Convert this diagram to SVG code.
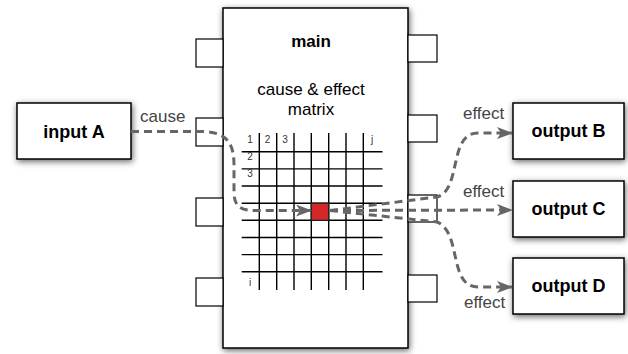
<svg xmlns="http://www.w3.org/2000/svg" width="628" height="354" viewBox="0 0 628 354">
<defs>
<filter id="sh" x="-30%" y="-30%" width="160%" height="160%">
<feDropShadow dx="1" dy="2" stdDeviation="3" flood-color="#000" flood-opacity="0.6"/>
</filter>
<marker id="arr" viewBox="0 0 16 12" refX="15" refY="6" markerWidth="16" markerHeight="12" markerUnits="userSpaceOnUse" orient="auto">
<path d="M0,0 L16,6 L0,12 L4,6 z" fill="#666"/>
</marker>
<style>
.box{fill:#fff;stroke:#000;stroke-width:1.5}
.port{fill:#fff;stroke:#000;stroke-width:1.2}
.t{font-family:"Liberation Sans",Arial,sans-serif;text-anchor:middle;fill:#000}
.b{font-weight:bold;font-size:18px}
.lbl{font-family:"Liberation Sans",Arial,sans-serif;font-size:17px;fill:#444}
.g{font-family:"Liberation Sans",Arial,sans-serif;font-size:10px;fill:#333;text-anchor:middle}
.grid line{stroke:#000;stroke-width:1.4}
.con{fill:none;stroke:#666;stroke-width:3;stroke-dasharray:8,5}
</style>
</defs>
<g id="main">
<rect class="box" x="223" y="8" width="185" height="340" filter="url(#sh)"/>
<g id="ports">
<rect class="port" x="196" y="39" width="27" height="28"/>
<rect class="port" x="196" y="118" width="27" height="28"/>
<rect class="port" x="196" y="198" width="27" height="28"/>
<rect class="port" x="196" y="278" width="27" height="28"/>
<rect class="port" x="408" y="35" width="29" height="27"/>
<rect class="port" x="408" y="115" width="29" height="27"/>
<rect class="port" x="408" y="195" width="29" height="27"/>
<rect class="port" x="408" y="275" width="29" height="27"/>
</g>
<text class="t" x="311" y="47" font-size="17" font-weight="bold">main</text>
<text class="t" x="311" y="95" font-size="17">cause &amp; effect</text>
<text class="t" x="311" y="115" font-size="17">matrix</text>
</g>
<g id="matrix">
<g class="grid">
<line x1="259.3" y1="133" x2="259.3" y2="290"/>
<line x1="276.7" y1="133" x2="276.7" y2="290"/>
<line x1="294" y1="133" x2="294" y2="290"/>
<line x1="311.3" y1="133" x2="311.3" y2="290"/>
<line x1="328.7" y1="133" x2="328.7" y2="290"/>
<line x1="346" y1="133" x2="346" y2="290"/>
<line x1="363.3" y1="133" x2="363.3" y2="290"/>
<line x1="241.7" y1="151.7" x2="382.5" y2="151.7"/>
<line x1="241.7" y1="168.9" x2="382.5" y2="168.9"/>
<line x1="241.7" y1="186" x2="382.5" y2="186"/>
<line x1="241.7" y1="203.2" x2="382.5" y2="203.2"/>
<line x1="241.7" y1="220.3" x2="382.5" y2="220.3"/>
<line x1="241.7" y1="237.5" x2="382.5" y2="237.5"/>
<line x1="241.7" y1="254.6" x2="382.5" y2="254.6"/>
<line x1="241.7" y1="271.8" x2="382.5" y2="271.8"/>
</g>
<rect x="311.3" y="203.2" width="17.4" height="17.1" fill="#d3282a" stroke="#222" stroke-width="1.2"/>
<text class="g" x="250" y="143">1</text>
<text class="g" x="267.5" y="143">2</text>
<text class="g" x="285" y="143">3</text>
<text class="g" x="372" y="143">j</text>
<text class="g" x="250" y="160">2</text>
<text class="g" x="250" y="177">3</text>
<text class="g" x="250" y="286">i</text>
</g>
<g id="inputA">
<rect class="box" x="17" y="103" width="114" height="56" filter="url(#sh)"/>
<text class="t b" x="74" y="138">input A</text>
</g>
<g id="outputB">
<rect class="box" x="513" y="103" width="111" height="56" filter="url(#sh)"/>
<text class="t b" x="568.5" y="137">output B</text>
</g>
<g id="outputC">
<rect class="box" x="513" y="181" width="111" height="56" filter="url(#sh)"/>
<text class="t b" x="568.5" y="215">output C</text>
</g>
<g id="outputD">
<rect class="box" x="513" y="258" width="111" height="56" filter="url(#sh)"/>
<text class="t b" x="568.5" y="292">output D</text>
</g>
<g id="connectors">
<path class="con" d="M131,131.5 L205,131.5 C228,133 234,145 234,165 L234,192 C234,205 239,210.5 255,210.5 L311,210.5" marker-end="url(#arr)"/>
<path class="con" d="M330,210.5 L437,197 C462,190 448,133 478,133 L512,133" marker-end="url(#arr)"/>
<path class="con" d="M330,210.5 L512,210" marker-end="url(#arr)"/>
<path class="con" d="M330,210.5 L437,222 C462,232 448,287 478,287 L512,287" marker-end="url(#arr)"/>
<text class="lbl" x="140" y="122">cause</text>
<text class="lbl" x="463" y="119">effect</text>
<text class="lbl" x="463" y="197">effect</text>
<text class="lbl" x="464" y="308">effect</text>
</g>
</svg>
